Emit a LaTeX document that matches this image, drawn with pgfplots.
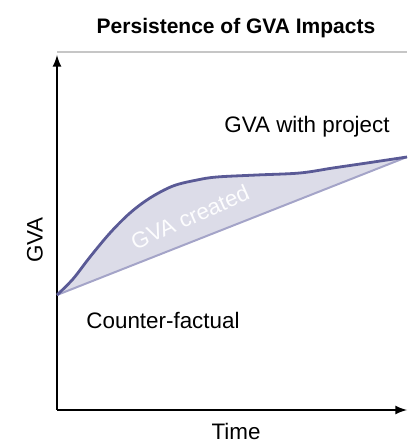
\documentclass[border=0pt]{standalone}
\usepackage{pgfplots}
\pgfplotsset{compat=1.18}
\usepgfplotslibrary{fillbetween}
\usepackage{fontspec}
\setmainfont{Liberation Sans}
\definecolor{upline}{HTML}{5A5A96}
\definecolor{loline}{HTML}{A4A4C8}
\definecolor{gvafill}{HTML}{DCDCE8}
\begin{document}
\begin{tikzpicture}
\begin{axis}[
    at={(28.5pt,16.5pt)}, anchor=south west,
    scale only axis, width=175pt, height=177.5pt,
    xmin=0, xmax=350, ymin=0, ymax=355,
    axis x line=bottom, axis y line=left,
    axis line style={line width=1pt, -latex},
    xtick=\empty, ytick=\empty,
    clip=false,
]
% counter-factual
\addplot[name path=lo, loline, line width=1pt] coordinates {(0,115) (350,253)};
% with project
\addplot[name path=up, upline, line width=1.4pt, smooth, tension=0.55] coordinates {
    (0,115) (16,131) (33,153) (53,177) (73,197) (93,212) (116,224) (140,230)
    (160,233) (200,235) (243,237) (276,242) (310,247) (350,253)};
\addplot[gvafill, draw=none] fill between[of=up and lo];
\draw[gray!45, line width=0.6pt] (axis cs:0,358) -- (axis cs:350,358);
\node[font=\fontsize{10.5}{12}\selectfont\bfseries] at (axis cs:179,382) {Persistence of GVA Impacts};
\node[font=\fontsize{11.2}{13}\selectfont] at (axis cs:250,283) {GVA with project};
\node[font=\fontsize{11.2}{13}\selectfont] at (axis cs:106,90) {Counter-factual};
\node[font=\fontsize{11.2}{13}\selectfont, rotate=90] at (axis cs:-22,170) {GVA};
\node[font=\fontsize{11.2}{13}\selectfont] at (axis cs:179,-21) {Time};
\node[font=\fontsize{11.2}{13}\selectfont, white!95!gvafill, rotate=24] at (axis cs:133,193) {GVA created};
\end{axis}
\pgfresetboundingbox
\useasboundingbox (0,0) rectangle (203.5pt,221.5pt);
\end{tikzpicture}
\end{document}
